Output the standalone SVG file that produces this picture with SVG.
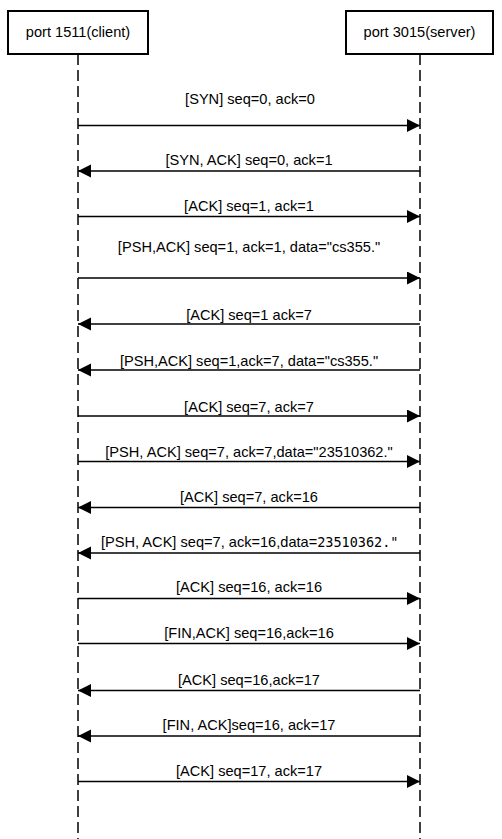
<svg xmlns="http://www.w3.org/2000/svg" width="502" height="839" viewBox="0 0 502 839">
<style>
.box{fill:#fff;stroke:#000;stroke-width:2}
.life{stroke:#000;stroke-width:1.5;stroke-dasharray:11 5;fill:none}
.msg{stroke:#000;stroke-width:1.5;fill:none;marker-end:url(#ah)}
text{font-family:"Liberation Sans",Arial,sans-serif;font-size:14.6px;fill:#000}
.lbl{text-anchor:middle}
.mono{font-family:"DejaVu Sans Mono","Liberation Mono",monospace;font-size:13.5px}
</style>
<defs>
<marker id="ah" markerUnits="userSpaceOnUse" markerWidth="14" markerHeight="14" refX="13" refY="6.5" orient="auto">
<path d="M0,0 L13,6.5 L0,13 z" fill="#000"/>
</marker>
</defs>
<g id="client">
<rect class="box" x="8" y="11" width="140" height="43"/>
<text class="lbl" x="78" y="37">port 1511(client)</text>
<line class="life" x1="78" y1="54" x2="78" y2="839"/>
</g>
<g id="server">
<rect class="box" x="346" y="11" width="147" height="43"/>
<text class="lbl" x="419.5" y="37">port 3015(server)</text>
<line class="life" x1="420" y1="54" x2="420" y2="839"/>
</g>
<g id="connectors">
<line class="msg" x1="78" y1="125.5" x2="420" y2="125.5"/>
<line class="msg" x1="420" y1="171" x2="78" y2="171"/>
<line class="msg" x1="78" y1="216.5" x2="420" y2="216.5"/>
<line class="msg" x1="78" y1="278" x2="420" y2="278"/>
<line class="msg" x1="420" y1="324" x2="78" y2="324"/>
<line class="msg" x1="420" y1="370" x2="78" y2="370"/>
<line class="msg" x1="78" y1="416" x2="420" y2="416"/>
<line class="msg" x1="78" y1="461.5" x2="420" y2="461.5"/>
<line class="msg" x1="420" y1="507.5" x2="78" y2="507.5"/>
<line class="msg" x1="420" y1="553" x2="78" y2="553"/>
<line class="msg" x1="78" y1="598.5" x2="420" y2="598.5"/>
<line class="msg" x1="78" y1="643.5" x2="420" y2="643.5"/>
<line class="msg" x1="420" y1="690.5" x2="78" y2="690.5"/>
<line class="msg" x1="420" y1="736" x2="78" y2="736"/>
<line class="msg" x1="78" y1="781.5" x2="420" y2="781.5"/>
</g>
<g id="labels">
<text class="lbl" x="250" y="104">[SYN] seq=0, ack=0</text>
<text class="lbl" x="249" y="165">[SYN, ACK] seq=0, ack=1</text>
<text class="lbl" x="249" y="211">[ACK] seq=1, ack=1</text>
<text class="lbl" x="249" y="251.5">[PSH,ACK] seq=1, ack=1, data="cs355."</text>
<text class="lbl" x="249" y="320">[ACK] seq=1 ack=7</text>
<text class="lbl" x="249" y="365.5">[PSH,ACK] seq=1,ack=7, data="cs355."</text>
<text class="lbl" x="249" y="411.5">[ACK] seq=7, ack=7</text>
<text class="lbl" x="249" y="456.5">[PSH, ACK] seq=7, ack=7,data="23510362."</text>
<text class="lbl" x="249" y="501.5">[ACK] seq=7, ack=16</text>
<text x="101" y="546.5">[PSH, ACK] seq=7, ack=16,data=<tspan class="mono">23510362."</tspan></text>
<text class="lbl" x="249" y="592">[ACK] seq=16, ack=16</text>
<text class="lbl" x="249" y="637.5">[FIN,ACK] seq=16,ack=16</text>
<text class="lbl" x="249" y="685">[ACK] seq=16,ack=17</text>
<text class="lbl" x="249" y="730">[FIN, ACK]seq=16, ack=17</text>
<text class="lbl" x="249" y="775.5">[ACK] seq=17, ack=17</text>
</g>
</svg>
